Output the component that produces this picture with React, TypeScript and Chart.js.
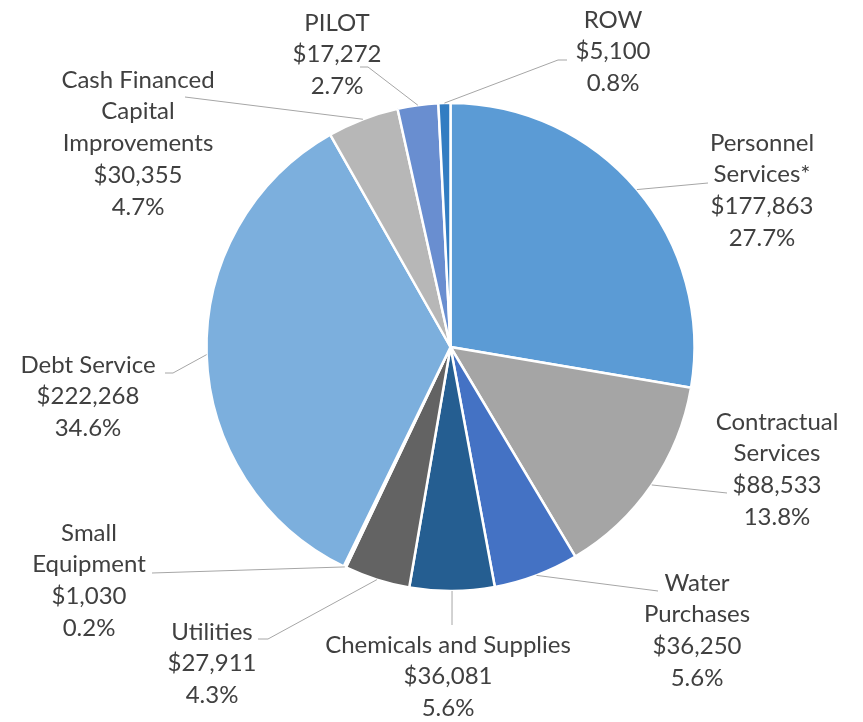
import React, { useEffect, useRef } from "react";
import { Chart, registerables } from "chart.js";

Chart.register(...registerables);

// ---- data ----
const categories: string[] = [
  "Personnel\nServices*",
  "Contractual\nServices",
  "Water\nPurchases",
  "Chemicals and Supplies",
  "Utilities",
  "Small\nEquipment",
  "Debt Service",
  "Cash Financed\nCapital\nImprovements",
  "PILOT",
  "ROW",
];
const amounts: number[] = [177863, 88533, 36250, 36081, 27911, 1030, 222268, 30355, 17272, 5100];
const sliceColors: string[] = [
  "#5B9BD5", "#A5A5A5", "#4472C4", "#255E91", "#636363",
  "#264478", "#7CAFDD", "#B7B7B7", "#698ED0", "#327DC2",
];

// ---- label layout (text centre x, first line centre y, leader path after the arc edge) ----
const labelX: number[] = [762, 777, 697, 448, 212, 89, 88, 138, 337, 613];
const labelY: number[] = [143, 422, 583, 645, 632, 533, 365, 80, 23, 20];
const leaderPath: number[][][] = [
  [[708, 183]],
  [[727, 493]],
  [[658, 591]],
  [[452, 625]],
  [[268, 639], [258, 639]],
  [[152, 573]],
  [[173, 373], [165, 373]],
  [[185, 97]],
  [[368, 67], [360, 67]],
  [[558, 60], [567, 60]],
];

const FONT = "24px Lato, 'Open Sans', sans-serif";
const LINE_H = 31.7;

const fmtMoney = (v: number) => "$" + v.toLocaleString("en-US");

const outsideLabels = {
  id: "outsideLabels",
  afterDatasetsDraw(chart: any) {
    const ctx = chart.ctx as CanvasRenderingContext2D;
    const meta = chart.getDatasetMeta(0);
    const total = amounts.reduce((a, b) => a + b, 0);
    ctx.save();
    meta.data.forEach((arc: any, i: number) => {
      const { x, y, startAngle, endAngle, outerRadius } = arc.getProps(
        ["x", "y", "startAngle", "endAngle", "outerRadius"],
        true
      );
      const mid = (startAngle + endAngle) / 2;
      const sx = x + Math.cos(mid) * outerRadius;
      const sy = y + Math.sin(mid) * outerRadius;
      ctx.beginPath();
      ctx.strokeStyle = "#A6A6A6";
      ctx.lineWidth = 1;
      ctx.moveTo(sx, sy);
      leaderPath[i].forEach((p) => ctx.lineTo(p[0], p[1]));
      ctx.stroke();

      const lines = categories[i].split("\n");
      lines.push(fmtMoney(amounts[i]));
      lines.push(((amounts[i] / total) * 100).toFixed(1) + "%");
      ctx.fillStyle = "#404040";
      ctx.font = FONT;
      ctx.textAlign = "center";
      ctx.textBaseline = "middle";
      lines.forEach((t, k) => {
        ctx.fillText(t, labelX[i], labelY[i] + k * LINE_H);
      });
    });
    ctx.restore();
  },
};

export default function App() {
  const ref = useRef<HTMLCanvasElement | null>(null);
  useEffect(() => {
    if (!ref.current) return;
    const chart = new Chart(ref.current, {
      type: "pie",
      data: {
        labels: categories,
        datasets: [
          {
            data: amounts,
            backgroundColor: sliceColors,
            borderColor: "#FFFFFF",
            borderWidth: 2.5,
            radius: 244,
          } as any,
        ],
      },
      options: {
        responsive: false,
        animation: false,
        events: [],
        layout: { padding: { left: 200.5, right: 162.5, top: 97, bottom: 125 } },
        plugins: {
          legend: { display: false },
          tooltip: { enabled: false },
        },
      },
      plugins: [outsideLabels],
    });
    return () => chart.destroy();
  }, []);
  return (
    <div style={{ position: "absolute", left: 0, top: 0, width: 863, height: 722, background: "#fff" }}>
      <canvas ref={ref} width={863} height={722} style={{ display: "block" }} />
    </div>
  );
}
